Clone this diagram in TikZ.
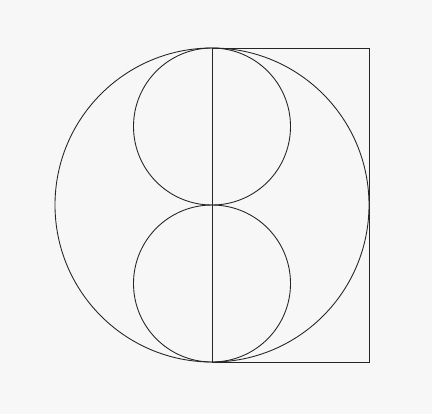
\documentclass[tikz,border=0pt]{standalone}
\usepackage{tikz}
\usetikzlibrary{positioning}

\begin{document}
\begin{tikzpicture}[
  x=0.02cm, y=-0.02cm,
  line/.style={draw=black!85, line width=0.5pt}
]

% --- canvas ---
\fill[black!3] (0,0) rectangle (432,414);
\useasboundingbox (0,0) rectangle (432,414);

% --- points ---
\coordinate (ctr)  at (212,205);
\coordinate (top)  at (212,48);
\coordinate (bot)  at (212,362);
\coordinate (tr)   at (369,48);
\coordinate (br)   at (369,362);
\coordinate (up)   at (212,126.5);
\coordinate (down) at (212,283.5);

% --- circles ---
\draw[line] (ctr)  circle[radius=157];
\draw[line] (up)   circle[radius=78.5];
\draw[line] (down) circle[radius=78.5];

% --- half square and axis ---
\draw[line] (top) -- (tr) -- (br) -- (bot);
\draw[line] (top) -- (bot);

\end{tikzpicture}
\end{document}
